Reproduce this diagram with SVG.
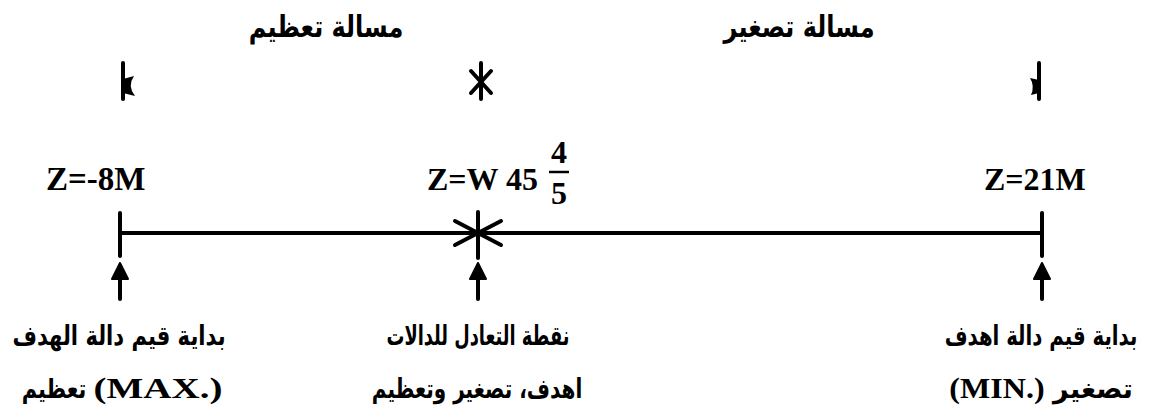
<svg xmlns="http://www.w3.org/2000/svg" width="1168" height="419" viewBox="0 0 1168 419">
<style>
.ar{font-family:"DejaVu Sans",sans-serif;font-weight:bold;fill:#000;text-anchor:middle}
.lat{font-family:"Liberation Serif",serif;font-weight:bold;fill:#000}
.ln{stroke:#000;stroke-width:4;fill:none;stroke-linecap:round;stroke-linejoin:round}
.hd{fill:#000;stroke:#000;stroke-width:2;stroke-linejoin:round}
</style>
<rect width="1168" height="419" fill="#fff"/>
<g id="title-max"><text class="ar" transform="translate(326,37) scale(0.8,1)" font-size="30">مسالة تعظيم</text></g>
<g id="title-min"><text class="ar" transform="translate(799,37) scale(0.8,1)" font-size="30">مسالة تصغير</text></g>
<g id="mark-left">
<line class="ln" x1="123" y1="63" x2="123" y2="99"/>
<path d="M123,79 L134,76 Q127,86 135,96 L123,93 Z" fill="#000"/>
</g>
<g id="mark-center">
<line class="ln" x1="481" y1="63" x2="481" y2="99"/>
<line class="ln" x1="471" y1="71" x2="491" y2="93"/>
<line class="ln" x1="491" y1="71" x2="471" y2="93"/>
</g>
<g id="mark-right">
<line class="ln" x1="1039" y1="63" x2="1039" y2="99"/>
<path d="M1039,80 L1030,78 Q1035,86 1031,95 L1039,93 Z" fill="#000"/>
</g>
<g id="label-max"><text class="lat" x="46" y="190" font-size="33">Z=-8M</text></g>
<g id="label-eq">
<text class="lat" x="427" y="190" font-size="32">Z=W 45</text>
<text class="lat" x="559" y="163" font-size="32" text-anchor="middle">4</text>
<line x1="549" y1="172" x2="569" y2="172" stroke="#000" stroke-width="2.5"/>
<text class="lat" x="559" y="204" font-size="32" text-anchor="middle">5</text>
</g>
<g id="label-min"><text class="lat" x="984" y="190" font-size="32">Z=21M</text></g>
<g id="connectors">
<line class="ln" x1="120" y1="233" x2="1042" y2="233"/>
<line class="ln" x1="120" y1="213" x2="120" y2="256"/>
<line class="ln" x1="1042" y1="213" x2="1042" y2="256"/>
<line class="ln" x1="478" y1="212" x2="478" y2="258"/>
<polyline class="ln" points="455,221 478,233 455,245"/>
<polyline class="ln" points="501,221 478,233 501,245"/>
<line class="ln" x1="120" y1="275" x2="120" y2="299"/>
<polygon class="hd" points="120,263 112,279 128,279"/>
<line class="ln" x1="478" y1="275" x2="478" y2="299"/>
<polygon class="hd" points="478,263 470,279 486,279"/>
<line class="ln" x1="1042" y1="275" x2="1042" y2="299"/>
<polygon class="hd" points="1042,263 1034,279 1050,279"/>
</g>
<g id="note-max">
<text class="ar" transform="translate(119,345) scale(0.78,1)" font-size="27">بداية قيم دالة الهدف</text>
<text class="ar" transform="translate(54,398) scale(0.77,1)" font-size="27">تعظيم</text>
<text class="lat" transform="translate(158,398) scale(1.3,1)" font-size="30" text-anchor="middle">(MAX.)</text>
</g>
<g id="note-eq">
<text class="ar" transform="translate(478,345) scale(0.66,1)" font-size="27">نقطة التعادل للدالات</text>
<text class="ar" transform="translate(477,398) scale(0.74,1)" font-size="27">اهدف، تصغير وتعظيم</text>
</g>
<g id="note-min">
<text class="ar" transform="translate(1041,345) scale(0.73,1)" font-size="27">بداية قيم دالة اهدف</text>
<text class="lat" transform="translate(997,398) scale(1.07,1)" font-size="30" text-anchor="middle">(MIN.)</text>
<text class="ar" transform="translate(1093,398)" font-size="27">تصغير</text>
</g>
</svg>
